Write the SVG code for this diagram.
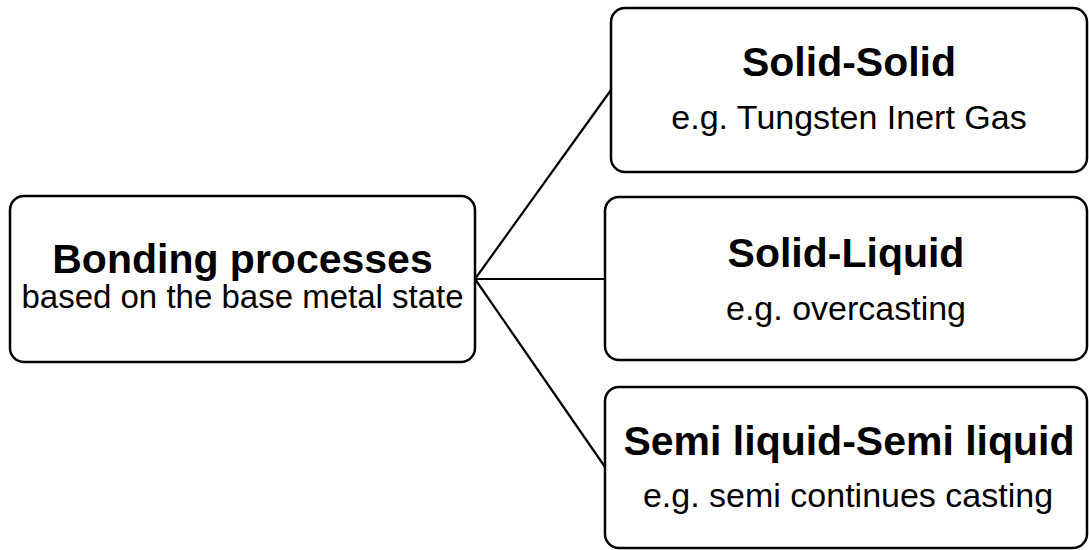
<svg xmlns="http://www.w3.org/2000/svg" width="1089" height="550" viewBox="0 0 1089 550">
<style>
.box{fill:#fff;stroke:#000;stroke-width:2.5}
.t{font-family:"Liberation Sans",Arial,sans-serif;font-weight:bold;font-size:41px;text-anchor:middle;fill:#000}
.s{font-family:"Liberation Sans",Arial,sans-serif;font-size:34px;text-anchor:middle;fill:#000}
.c{stroke:#000;stroke-width:2.2;fill:none}
</style>
<rect width="1089" height="550" fill="#fff"/>
<g id="connectors">
<line class="c" x1="475" y1="279" x2="611" y2="90"/>
<line class="c" x1="475" y1="279" x2="605" y2="279"/>
<line class="c" x1="475" y1="279" x2="605" y2="467"/>
</g>
<g id="bonding">
<rect class="box" x="10" y="196" width="465" height="166" rx="14"/>
<text class="t" x="242.5" y="273">Bonding processes</text>
<text class="s" x="242.5" y="308" style="font-size:33px">based on the base metal state</text>
</g>
<g id="solid-solid">
<rect class="box" x="611" y="8" width="476" height="164" rx="14"/>
<text class="t" x="849" y="76">Solid-Solid</text>
<text class="s" x="849" y="129">e.g. Tungsten Inert Gas</text>
</g>
<g id="solid-liquid">
<rect class="box" x="605" y="197" width="482" height="163" rx="14"/>
<text class="t" x="846" y="267">Solid-Liquid</text>
<text class="s" x="846" y="320">e.g. overcasting</text>
</g>
<g id="semi-liquid">
<rect class="box" x="605" y="387" width="482" height="161" rx="14"/>
<text class="t" x="849" y="455">Semi liquid-Semi liquid</text>
<text class="s" x="848" y="507">e.g. semi continues casting</text>
</g>
</svg>
